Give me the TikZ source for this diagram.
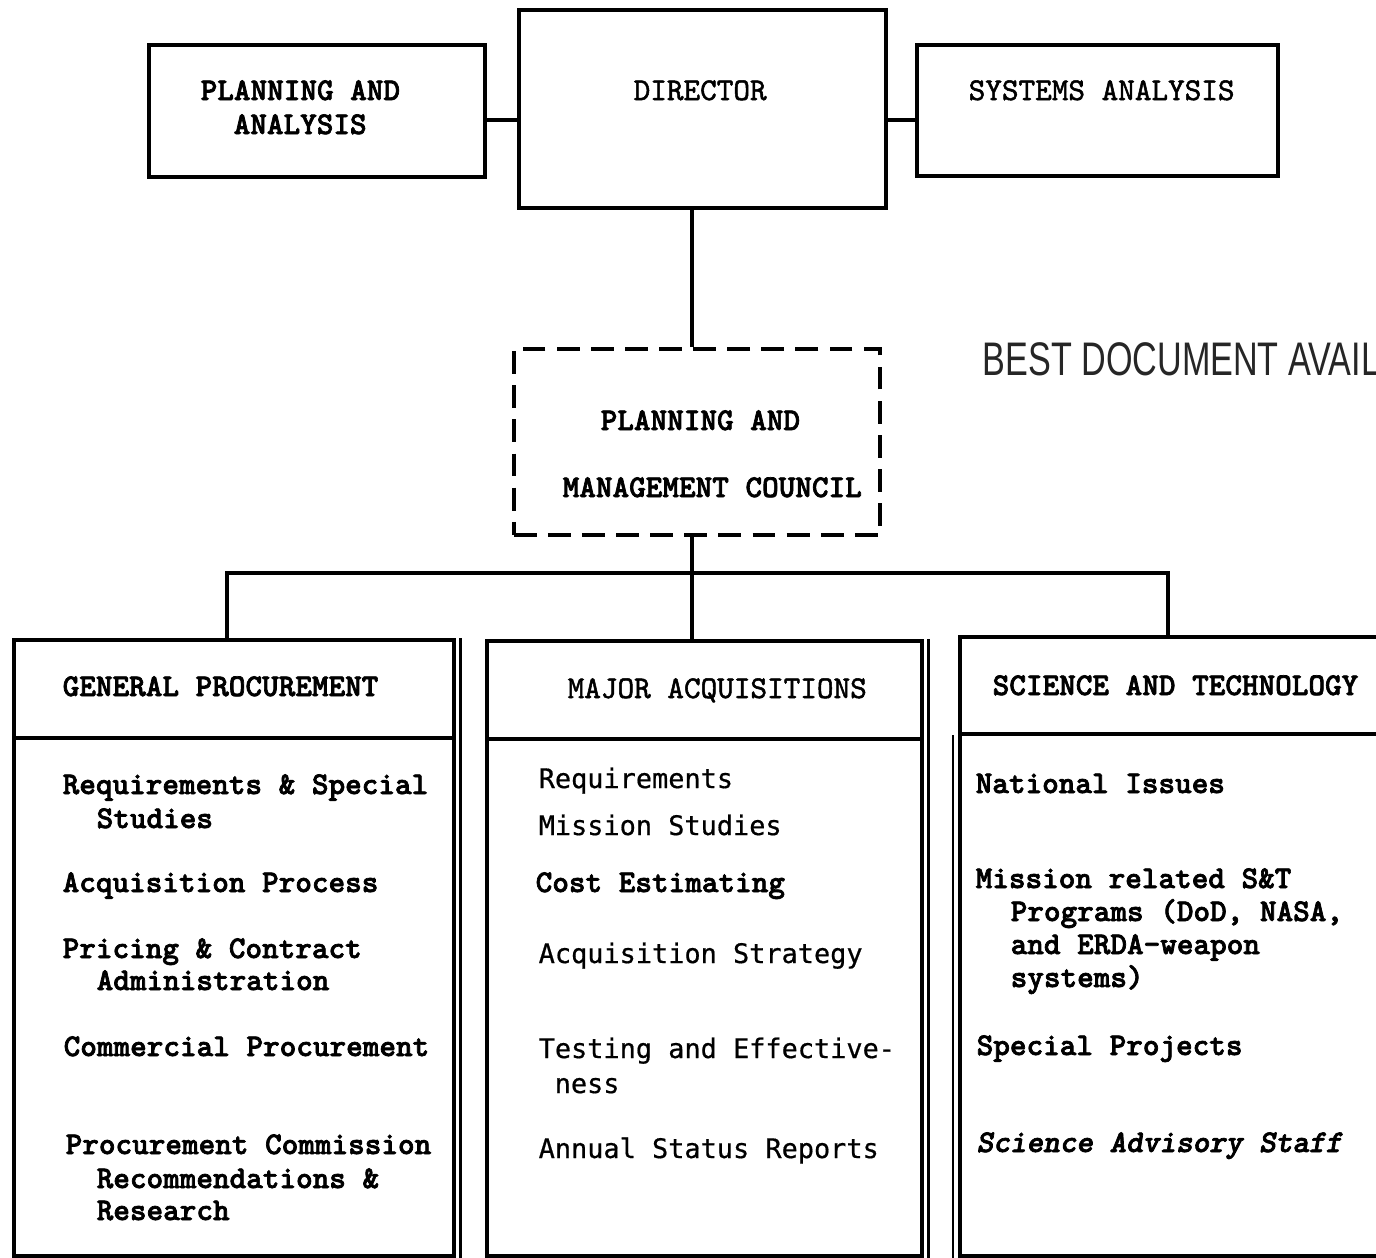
\documentclass[tikz,border=0pt]{standalone}
\usepackage{fontspec}
\newfontfamily\twbold[Extension=.otf, FakeBold=2.2]{lmmonolt10-bold}
\newfontfamily\twboldit[Extension=.otf, FakeBold=2.2]{lmmonolt10-boldoblique}
\newfontfamily\twmed[Extension=.otf, FakeBold=1.6]{lmmono10-regular}
\newfontfamily\lgfont[FakeBold=0.6]{DejaVu Sans Mono}
\newfontfamily\bestfont[FakeStretch=0.725]{Liberation Sans}
\tikzset{
  box/.style={draw, line width=1pt, anchor=north west, inner sep=0pt},
  conn/.style={line width=1pt},
  tb/.style={font=\twbold\fontsize{9.0pt}{10pt}\selectfont, inner sep=0pt, anchor=base west},
  tr/.style={font=\twmed\fontsize{9.0pt}{10pt}\selectfont, inner sep=0pt, anchor=base west},
  tbi/.style={font=\twboldit\fontsize{9.0pt}{10pt}\selectfont, inner sep=0pt, anchor=base west},
  lgt/.style={font=\lgfont\fontsize{7.65pt}{9.4pt}\selectfont, inner sep=0pt, anchor=base west},
}
\begin{document}
\begin{tikzpicture}[x=0.01cm, y=-0.01cm]
\useasboundingbox (0,0) rectangle (1376,1257);
\fill[white] (0,0) rectangle (1376,1257);

% top row
\node[box, minimum width=3.36cm, minimum height=1.32cm] (pa) at (147,43) {};
\node[box, minimum width=3.67cm, minimum height=1.98cm] (dir) at (517,8) {};
\node[box, minimum width=3.61cm, minimum height=1.31cm] (sa) at (915,43) {};

\node[tb] (paT1) at (200,100) {PLANNING AND};
\node[tb] (paT2) at (233,134) {ANALYSIS};
\node[tr] (dirT) at (633,100) {DIRECTOR};
\node[tr] (saT) at (968,100) {SYSTEMS ANALYSIS};

% council
\node[box, dash pattern=on 6.5pt off 3.2pt, minimum width=3.66cm, minimum height=1.86cm] (council) at (512,347) {};
\node[tb] (coT1) at (600,430) {PLANNING AND};
\node[tb] (coT2) at (562,497) {MANAGEMENT COUNCIL};

\node[font=\bestfont\fontsize{13.4pt}{15pt}\selectfont, text=black!85, inner sep=0pt, anchor=base west] (best) at (982,375) {BEST DOCUMENT AVAIL};

% bottom boxes
\node[box, minimum width=4.40cm, minimum height=6.16cm] (gp) at (12,638) {};
\node[box, minimum width=4.35cm, minimum height=6.15cm] (ma) at (485,639) {};
\node[box, minimum width=4.30cm, minimum height=6.19cm] (st) at (958,635) {};

\draw[conn] ([yshift=-1.0cm]gp.north west) -- ([yshift=-1.0cm]gp.north east);
\draw[conn] ([yshift=-1.0cm]ma.north west) -- ([yshift=-1.0cm]ma.north east);
\draw[conn] ([yshift=-0.99cm]st.north west) -- ([yshift=-0.99cm]st.north east);
\draw[line width=0.8pt] ([xshift=0.05cm]gp.north east) -- ([xshift=0.05cm]gp.south east);
\draw[line width=0.8pt] ([xshift=0.05cm]ma.north east) -- ([xshift=0.05cm]ma.south east);
\draw[line width=0.8pt] ([xshift=-0.05cm,yshift=-1.0cm]st.north west) -- ([xshift=-0.05cm]st.south west);

% connectors
\coordinate (c1) at ([yshift=-0.09cm]pa.east);
\draw[conn] (c1) -- (c1 -| dir.west);
\coordinate (c2) at (sa.west |- c1);
\draw[conn] (c2) -- (c2 -| dir.east);
\coordinate (vx) at (692,0);
\coordinate (bus) at (0,573);
\coordinate (gpx) at (227,0);
\coordinate (stx) at (1168,0);
\draw[conn] (dir.south -| vx) -- (council.north -| vx);
\draw[conn] (council.south -| vx) -- (ma.north -| vx);
\draw[conn] (gp.north -| gpx) -- (bus -| gpx) -- (bus -| stx) -- (st.north -| stx);

% headers
\node[tb] (gpH) at (62,696) {GENERAL PROCUREMENT};
\node[tr] (maH) at (567,698) {MAJOR ACQUISITIONS};
\node[tb] (stH) at (992,695) {SCIENCE AND TECHNOLOGY};

% general procurement items
\node[tb] (gp1a) at (62,794) {Requirements \& Special};
\node[tb] (gp1b) at (96,828) {Studies};
\node[tb] (gp2) at (62,892) {Acquisition Process};
\node[tb] (gp3a) at (62,958) {Pricing \& Contract};
\node[tb] (gp3b) at (96,990) {Administration};
\node[tb] (gp4) at (63,1056) {Commercial Procurement};
\node[tb] (gp5a) at (65,1154) {Procurement Commission};
\node[tb] (gp5b) at (96,1188) {Recommendations \&};
\node[tb] (gp5c) at (96,1220) {Research};

% major acquisitions items
\node[lgt] (ma1) at (538,788) {Requirements};
\node[lgt] (ma2) at (538,835) {Mission Studies};
\node[tb] (ma3) at (535,892) {Cost Estimating};
\node[lgt] (ma4) at (538,963) {Acquisition Strategy};
\node[lgt] (ma5a) at (538,1058) {Testing and Effective-};
\node[lgt] (ma5b) at (554,1093) {ness};
\node[lgt] (ma6) at (538,1158) {Annual Status Reports};

% science and technology items
\node[tb] (st1) at (975,793) {National Issues};
\node[tb] (st2a) at (975,888) {Mission related S\&T};
\node[tb] (st2b) at (1010,921) {Programs (DoD, NASA,};
\node[tb] (st2c) at (1010,954) {and ERDA-weapon};
\node[tb] (st2d) at (1010,987) {systems)};
\node[tb] (st3) at (976,1055) {Special Projects};
\node[tbi] (st4) at (976,1152) {Science Advisory Staff};
\end{tikzpicture}
\end{document}
